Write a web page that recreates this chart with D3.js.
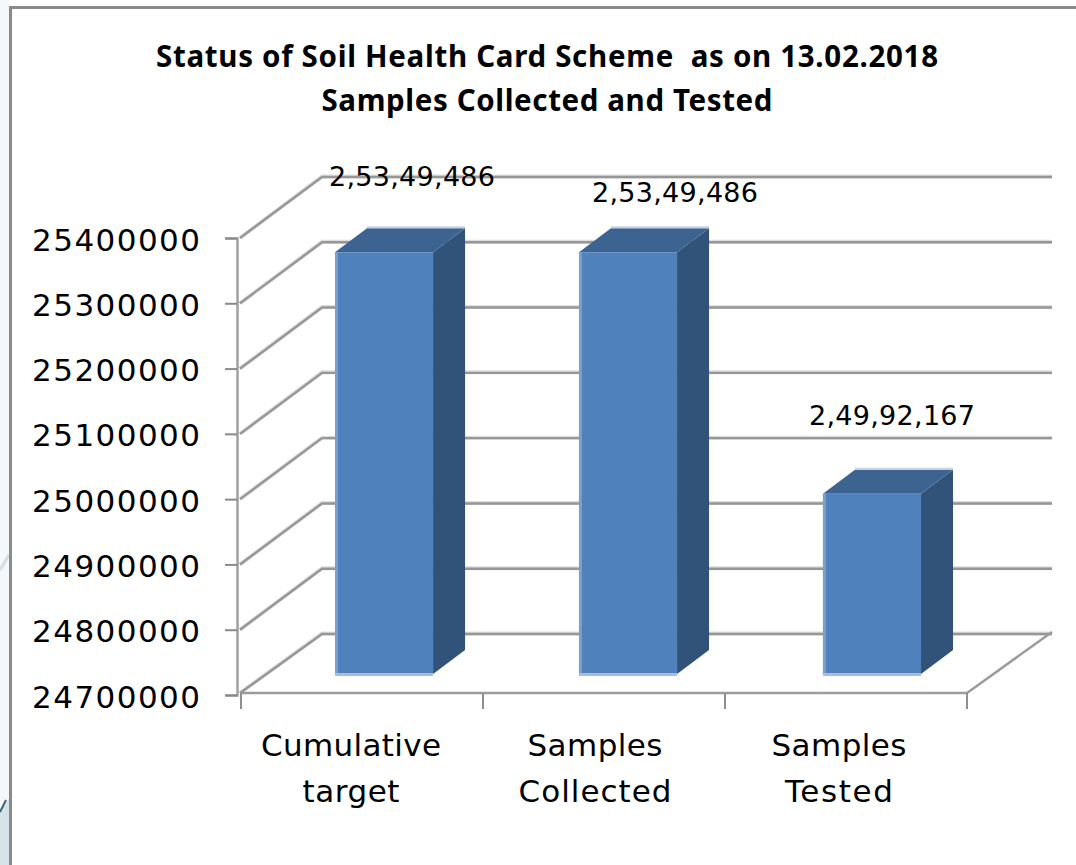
<!DOCTYPE html>
<html>
<head>
<meta charset="utf-8">
<script src="https://cdn.jsdelivr.net/npm/d3@7"></script>
<style>
    html, body { margin: 0; padding: 0; background: #fff; }
    svg { display: block; }
    text { fill: #000; font-family: "DejaVu Sans", sans-serif; }
</style>
</head>
<body>
<svg id="chart"></svg>
<script>
const titleLines = ["Status of Soil Health Card Scheme  as on 13.02.2018", "Samples Collected and Tested"];
const categories = ["Cumulative target", "Samples Collected", "Samples Tested"];
const categoryLines = [["Cumulative", "target"], ["Samples", "Collected"], ["Samples", "Tested"]];
const barLabels = ["2,53,49,486", "2,53,49,486", "2,49,92,167"];
// bar tops as drawn in the picture (the third one sits lower than its label says)
const barValues = [25346000, 25346000, 24976000];
const axisTicks = [24700000, 24800000, 24900000, 25000000, 25100000, 25200000, 25300000, 25400000];

const svg_width = 1076, svg_height = 865;
const svg = d3.select("#chart").attr("width", svg_width).attr("height", svg_height);

// page background peeking out left of the frame
svg.append("rect").attr("x", 0).attr("y", 0).attr("width", 9).attr("height", svg_height).attr("fill", "#f4f8fa");
svg.append("path").attr("d", "M0,570L9,555").attr("stroke", "#d5dde0").attr("stroke-width", 3).attr("fill", "none");
svg.append("path").attr("d", "M0,812L9,798V865H0Z").attr("fill", "#d6e4ea");
svg.append("path").attr("d", "M0,812L6,800").attr("stroke", "#3f6475").attr("stroke-width", 2).attr("fill", "none");
svg.append("path")
    .attr("d", `M${svg_width},7.5H10.5V${svg_height}`)
    .attr("fill", "none").attr("stroke", "#8a8a8a").attr("stroke-width", 3);

const y = d3.scaleLinear().domain([24700000, 25400000]).range([695, 238]);
// bars and their labels step slightly wider than the axis ticks in the picture
const x = d3.scaleBand().domain(categories).range([241, 971]).paddingInner(0.598).paddingOuter(0.295);
const xEdges = d3.scaleLinear().domain([0, 3]).range([241, 967]);

// chart box depth
const depth = { dx: 82, dy: -61 };
const barDepth = { dx: 32, dy: -24 };
const barShift = { dx: 22, dy: -21 };
const wallRight = 1052;
const gridColor = "#979797";

// pale shadow under each grid line
const grid = svg.append("g").attr("fill", "none");
axisTicks.forEach((t, i) => {
    const yf = y(t) - (i === 0 ? 2 : 0);
    const px = 240, bx = px + depth.dx, by = y(t) + depth.dy;
    grid.append("path")
        .attr("d", `M${px},${yf}L${bx},${by - 0.5}L${wallRight},${by - 0.5}`)
        .attr("stroke", "#dedede").attr("stroke-width", 4);
    grid.append("path")
        .attr("d", `M${px},${yf}L${bx},${by}L${wallRight},${by}`)
        .attr("stroke", gridColor).attr("stroke-width", 2.4);
});

// floor front and right edge
const floorY = y(24700000) - 2;
svg.append("path")
    .attr("d", `M241,${floorY}H967L${wallRight},${floorY + depth.dy}`)
    .attr("fill", "none").attr("stroke", "#9c9c9c").attr("stroke-width", 2.5);

// y axis
const yAxis = svg.append("g")
    .attr("transform", "translate(237,0)")
    .call(d3.axisLeft(y).tickValues(axisTicks).tickFormat(d3.format("d")).tickSize(12).tickPadding(25));
yAxis.select(".domain").attr("stroke", "#a0a0a0").attr("stroke-width", 2.5);
yAxis.selectAll(".tick line").attr("stroke", "#8a8a8a").attr("stroke-width", 2);
yAxis.selectAll(".tick text")
    .attr("font-size", 31)
    .attr("font-family", "'DejaVu Sans', sans-serif")
    .attr("textLength", 168)
    .attr("lengthAdjust", "spacing")
    .attr("dy", "0.39em");

// x axis ticks sit on the category edges
svg.append("g").selectAll("line").data(d3.range(4)).enter().append("line")
    .attr("x1", d => xEdges(d)).attr("x2", d => xEdges(d))
    .attr("y1", floorY).attr("y2", floorY + 16)
    .attr("stroke", "#8f8f8f").attr("stroke-width", 2);

// bars
const frontColor = "#4f81bd", topColor = "#3d6391", sideColor = "#325379";
const bars = svg.append("g").selectAll("g").data(categories).enter().append("g");
categories.forEach((c, i) => {
    const g = bars.filter(d => d === c);
    const x0 = x(c) + barShift.dx, w = x.bandwidth();
    const yb = y(24700000) + barShift.dy, yt = y(barValues[i]) + barShift.dy;
    const dx = barDepth.dx, dy = barDepth.dy;
    g.append("path")
        .attr("d", `M${x0 + w},${yb}L${x0 + w + dx},${yb + dy}V${yt + dy}L${x0 + w},${yt}Z`)
        .attr("fill", sideColor);
    g.append("path")
        .attr("d", `M${x0},${yt}L${x0 + dx},${yt + dy}H${x0 + w + dx}L${x0 + w},${yt}Z`)
        .attr("fill", topColor);
    g.append("path")
        .attr("d", `M${x0 + dx},${yt + dy - 1}H${x0 + w + dx}`)
        .attr("stroke", "#c8d2e0").attr("stroke-width", 2);
    g.append("rect")
        .attr("x", x0).attr("y", yt).attr("width", w).attr("height", yb - yt)
        .attr("fill", frontColor);
    g.append("rect")
        .attr("x", x0).attr("y", yt).attr("width", 3).attr("height", yb - yt)
        .attr("fill", "#7f9fc9");
    g.append("rect")
        .attr("x", x0).attr("y", yb - 1).attr("width", w).attr("height", 3)
        .attr("fill", "#a6bddc");
});

// value labels
const labelX = [412, 675, 892], labelY = [186, 202, 425];
svg.append("g").selectAll("text").data(barLabels).enter().append("text")
    .attr("x", (d, i) => labelX[i])
    .attr("y", (d, i) => labelY[i])
    .attr("text-anchor", "middle")
    .attr("font-size", 27)
    .attr("textLength", 166)
    .attr("lengthAdjust", "spacing")
    .text(d => d);

// category labels
const catWidths = [[180, 97], [135, 153], [135, 108]];
categories.forEach((c, i) => {
    categoryLines[i].forEach((line, j) => {
        svg.append("text")
            .attr("x", x(c) + x.bandwidth() / 2 - 11)
            .attr("y", 756 + j * 46)
            .attr("text-anchor", "middle")
            .attr("font-size", 31)
            .attr("textLength", catWidths[i][j])
            .attr("lengthAdjust", "spacing")
            .text(line);
    });
});

// title
const titleWidths = [782, 451], titleX = [547, 547], titleY = [67, 111];
svg.append("g").selectAll("text").data(titleLines).enter().append("text")
    .attr("x", (d, i) => titleX[i])
    .attr("y", (d, i) => titleY[i])
    .attr("text-anchor", "middle")
    .style("white-space", "pre")
    .style("font-family", "'Noto Sans', sans-serif")
    .attr("font-weight", "bold")
    .attr("font-size", 29.5)
    .attr("textLength", (d, i) => titleWidths[i])
    .attr("lengthAdjust", "spacing")
    .text(d => d);
</script>
</body>
</html>
